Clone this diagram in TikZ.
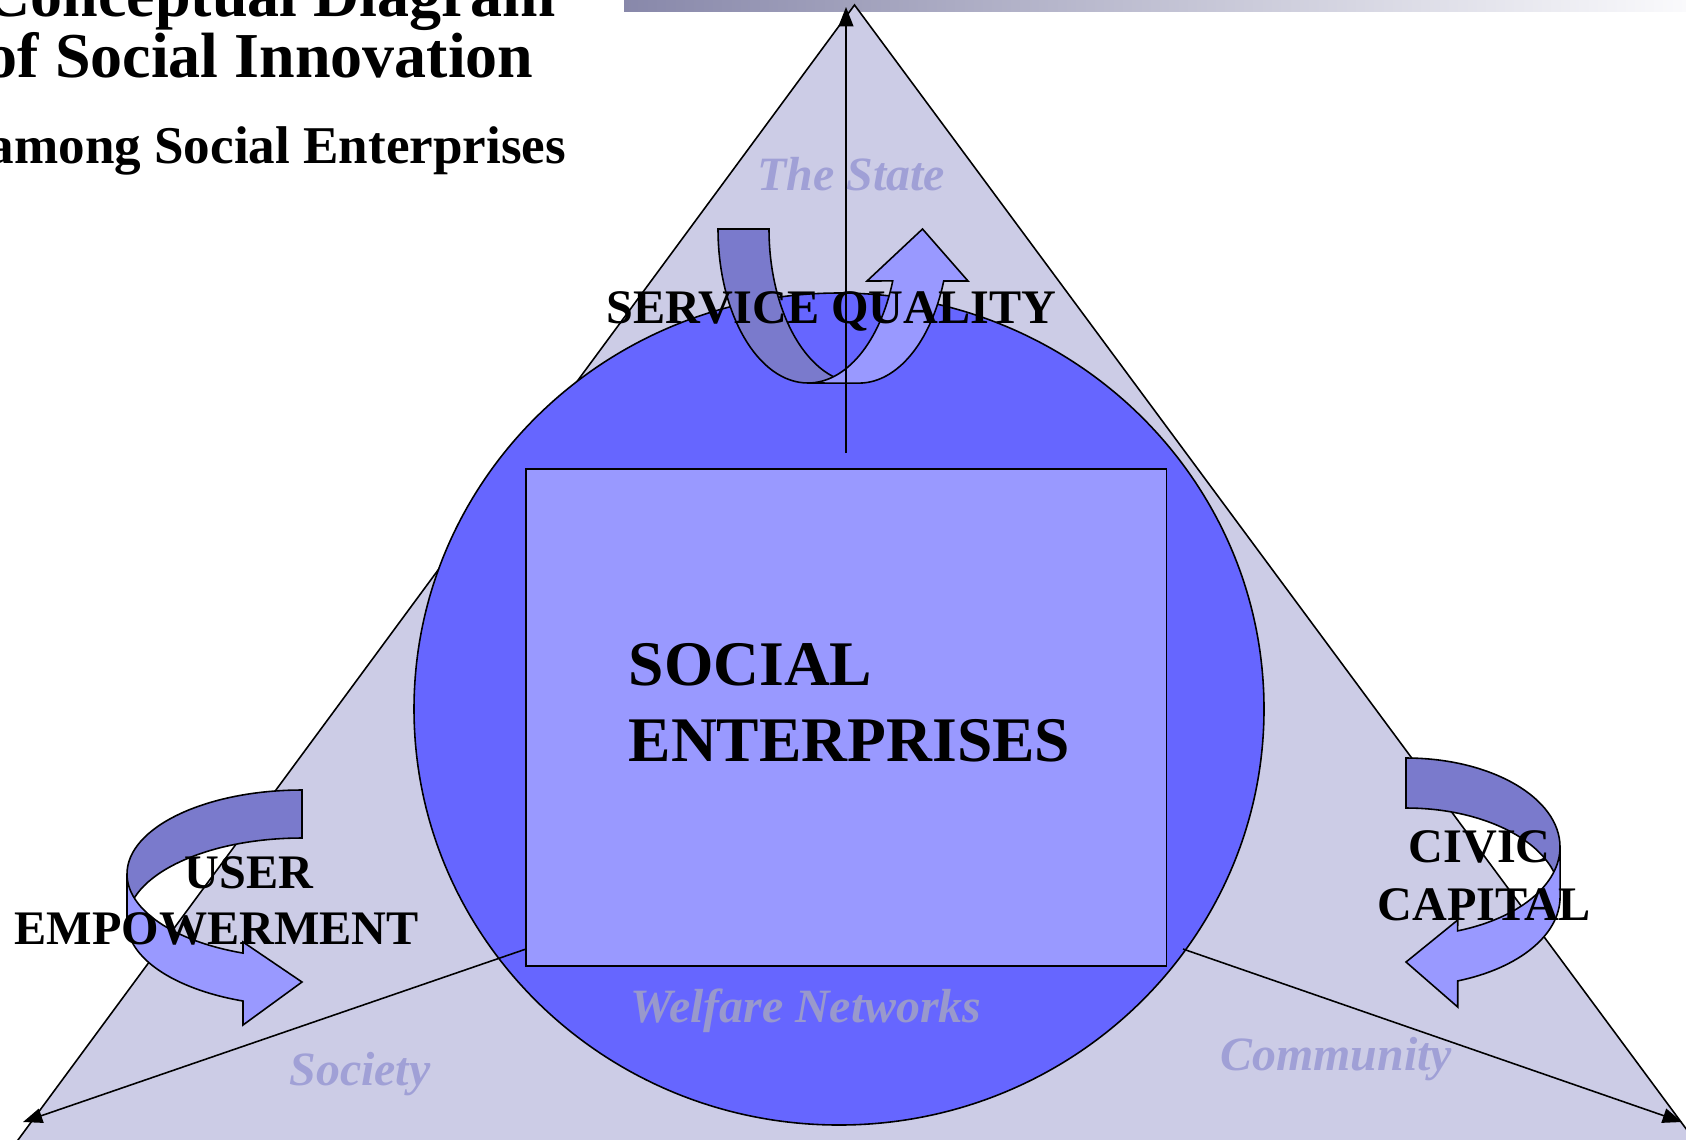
\documentclass[tikz,border=0pt]{standalone}
\usepackage{fontspec}
\setmainfont{Liberation Serif}
\usepackage{tikz}
\usetikzlibrary{arrows.meta}
\usetikzlibrary{calc}

\definecolor{triFill}{RGB}{204,204,230}
\definecolor{circFill}{RGB}{102,102,255}
\definecolor{boxFill}{RGB}{153,153,255}
\definecolor{bandDark}{RGB}{122,122,204}
\definecolor{bandLight}{RGB}{153,153,255}
\definecolor{sphereText}{RGB}{160,160,214}
\definecolor{barLeft}{RGB}{136,136,170}
\definecolor{barRight}{RGB}{250,250,252}

\tikzset{
	outline/.style={draw=black, line width=0.45pt},
	axis/.style={line width=0.45pt, -{Triangle[length=5.5pt,width=4.2pt]}},
	heading/.style={inner sep=0pt, anchor=base west, font=\bfseries\fontsize{18.2pt}{20pt}\selectfont},
	keyword/.style={inner sep=0pt, anchor=base west, font=\bfseries\fontsize{13.7pt}{16pt}\selectfont},
	sphere/.style={inner sep=0pt, anchor=base west, text=sphereText, font=\bfseries\itshape\fontsize{13.6pt}{16pt}\selectfont},
}

\begin{document}
\begin{tikzpicture}[x=0.01cm, y=-0.01cm]
	\useasboundingbox (0,0) rectangle (1686,1139);
	\clip (0,0) rectangle (1686,1139);
	
	\shade[left color=barLeft, right color=barRight] (624,0) rectangle (1686,11.7);
	
	% triangle of the three spheres
	\coordinate (apex) at (854.5,5);
	\filldraw[fill=triFill, outline] (apex) -- (1739.5,1201) -- (-27,1201) -- cycle;
	
	\filldraw[fill=circFill, outline] (839,709) ellipse [x radius=425, y radius=416];
	\filldraw[fill=boxFill, outline] (526,469) rectangle (1166.5,966);
	
	% service quality
	\filldraw[fill=bandDark, outline] (718,229) arc[start angle=180, end angle=90, x radius=90, y radius=154]
		-- (859,383) arc[start angle=90, end angle=180, x radius=90, y radius=154] -- cycle;
	\filldraw[fill=bandLight, outline] (808,383) arc[start angle=90, end angle=19.7, x radius=90, y radius=154]
		-- (867,281) -- (922.5,229) -- (968,281) -- (943.7,281)
		arc[start angle=19.7, end angle=90, x radius=90, y radius=154] -- cycle;
	
	% user empowerment
	\filldraw[fill=bandDark, outline] (302,790) arc[start angle=270, end angle=180, x radius=175, y radius=84]
		-- (127,922) arc[start angle=180, end angle=270, x radius=175, y radius=84] -- cycle;
	\filldraw[fill=bandLight, outline] (127,874) arc[start angle=180, end angle=109.7, x radius=175, y radius=84]
		-- (243,942) -- (302,982) -- (243,1025) -- (243,1001)
		arc[start angle=109.7, end angle=180, x radius=175, y radius=84] -- cycle;
	
	% civic capital
	\filldraw[fill=bandDark, outline] (1406,758) arc[start angle=270, end angle=360, x radius=154, y radius=89]
		-- (1560,897) arc[start angle=0, end angle=-90, x radius=154, y radius=89] -- cycle;
	\filldraw[fill=bandLight, outline] (1560,847) arc[start angle=0, end angle=70.4, x radius=154, y radius=89]
		-- (1457.7,920) -- (1406,962) -- (1457.7,1007) -- (1457.7,980.9)
		arc[start angle=70.4, end angle=0, x radius=154, y radius=89] -- cycle;
	
	% axes
	\coordinate (state) at (846,7);
	\coordinate (stem) at (846,453);
	\coordinate (society) at (23,1122);
	\coordinate (community) at (1682,1122);
	\coordinate (boxSW) at (526,949);
	\coordinate (rimSE) at (1183,949);
	\draw[axis] (stem) -- (state);
	\draw[axis] (boxSW) -- (society);
	\draw[axis] (rimSE) -- (community);
	
	% titles
	\node[heading] (title1) at (-16,16.7) {Conceptual Diagram};
	\node[heading] (title2) at (-15,77.3) {of Social Innovation};
	\node[heading, font=\bfseries\fontsize{15.1pt}{18pt}\selectfont] (subtitle) at (-13,163) {among Social Enterprises};
	
	\node[heading, font=\bfseries\fontsize{18.07pt}{20pt}\selectfont] (se1) at (628,685) {SOCIAL};
	\node[heading, font=\bfseries\fontsize{18.07pt}{20pt}\selectfont] (se2) at (628,761.5) {ENTERPRISES};
	
	\node[keyword] (quality) at (606,323) {SERVICE QUALITY};
	\node[keyword] (user1) at (184,888) {USER};
	\node[keyword] (user2) at (14,944) {EMPOWERMENT};
	\node[keyword] (civic1) at (1408,862) {CIVIC};
	\node[keyword] (civic2) at (1377,920) {CAPITAL};
	
	\node[sphere] (stateLbl) at (757,190) {The State};
	\node[sphere, text={rgb,255:red,153;green,153;blue,204}] (welfare) at (629.5,1022) {Welfare Networks};
	\node[sphere] (societyLbl) at (289,1085) {Society};
	\node[sphere] (communityLbl) at (1220,1070) {Community};
\end{tikzpicture}
\end{document}
